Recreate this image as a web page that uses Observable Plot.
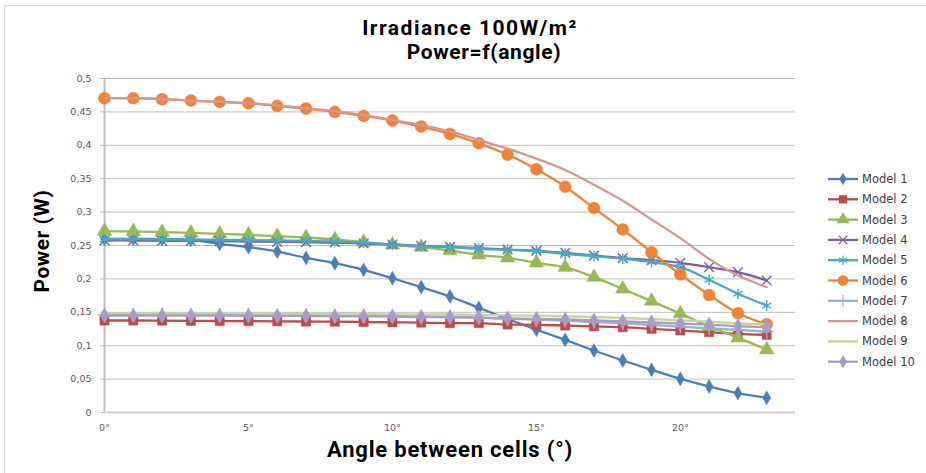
<!DOCTYPE html>
<html>
<head>
<meta charset="utf-8">
<script src="https://cdn.jsdelivr.net/npm/d3@7"></script>
<script src="https://cdn.jsdelivr.net/npm/@observablehq/plot@0.6"></script>
<style>
  html, body { margin: 0; padding: 0; background: #fff; }
  #wrap { position: relative; width: 926px; height: 473px; overflow: hidden; background: #fff; }
  #frame { position: absolute; left: 4px; top: 5px; width: 940px; height: 480px; border-left: 1px solid #d9d9d9; border-top: 1px solid #d9d9d9; }
  .ttl { position: absolute; font-family: Roboto, "Liberation Sans", sans-serif; font-weight: bold; color: #000; white-space: nowrap; transform: translate(-50%, -50%); line-height: 1; }
  #ytitle { position: absolute; font-family: Roboto, "Liberation Sans", sans-serif; font-weight: bold; font-size: 21px; letter-spacing: 0.5px; white-space: nowrap; left: 42px; top: 241px; line-height: 1; transform: translate(-50%, -50%) rotate(-90deg); }
  #chart { position: absolute; left: 0; top: 0; }
  #legend { position: absolute; left: 0; top: 0; }
</style>
</head>
<body>
<div id="wrap">
  <div id="frame"></div>
  <div id="chart"></div>
  <div id="legend"></div>
  <div class="ttl" style="left:470px; top:28px; font-size:21px; letter-spacing:1.5px;">Irradiance 100W/m²</div>
  <div class="ttl" style="left:484px; top:52px; font-size:21px; letter-spacing:0.6px;">Power=f(angle)</div>
  <div class="ttl" style="left:450px; top:450px; font-size:22px; letter-spacing:0.8px;">Angle between cells (°)</div>
  <div id="ytitle">Power (W)</div>
</div>
<script>
const angles = [0,1,2,3,4,5,6,7,8,9,10,11,12,13,14,15,16,17,18,19,20,21,22,23];
const xTicks = [0,5,10,15,20];
const yTicks = [0,0.05,0.1,0.15,0.2,0.25,0.3,0.35,0.4,0.45,0.5];

const model1 = [0.260,0.260,0.2595,0.2585,0.2525,0.2475,0.241,0.2315,0.2235,0.2136,0.201,0.1876,0.1737,0.1567,0.140,0.124,0.1088,0.0928,0.0778,0.0639,0.0504,0.039,0.029,0.022];
const model2 = [0.1377,0.1377,0.1375,0.1372,0.137,0.1368,0.1365,0.1362,0.136,0.1355,0.135,0.1345,0.1337,0.1337,0.1317,0.1313,0.1302,0.129,0.1277,0.1253,0.1228,0.1202,0.1178,0.1163];
const model3 = [0.2715,0.271,0.270,0.269,0.2675,0.266,0.264,0.262,0.259,0.255,0.251,0.2475,0.2425,0.236,0.2315,0.224,0.2175,0.2026,0.185,0.1667,0.148,0.129,0.112,0.094];
const model4 = [0.2575,0.2575,0.257,0.257,0.2565,0.256,0.2555,0.255,0.2545,0.253,0.2515,0.2495,0.248,0.246,0.244,0.242,0.239,0.235,0.231,0.228,0.224,0.2175,0.21,0.1976];
const model5 = [0.2595,0.2595,0.259,0.259,0.2585,0.258,0.2575,0.257,0.256,0.254,0.2515,0.249,0.2475,0.245,0.2435,0.2415,0.2375,0.234,0.230,0.225,0.2175,0.1987,0.1777,0.160];
const model6 = [0.4705,0.4705,0.469,0.467,0.465,0.463,0.459,0.455,0.450,0.444,0.437,0.428,0.417,0.403,0.386,0.364,0.338,0.306,0.274,0.240,0.2066,0.176,0.1486,0.132];
const model7 = [0.1465,0.1465,0.1465,0.146,0.146,0.146,0.1455,0.1455,0.145,0.145,0.1445,0.144,0.143,0.142,0.1405,0.139,0.1375,0.1355,0.1335,0.131,0.1285,0.126,0.1235,0.121];
const model8 = [0.4705,0.4705,0.469,0.467,0.465,0.463,0.4595,0.4555,0.451,0.445,0.438,0.43,0.4207,0.408,0.395,0.380,0.363,0.341,0.317,0.289,0.261,0.230,0.205,0.1876];
const model9 = [0.1487,0.1487,0.1487,0.1485,0.1485,0.1485,0.148,0.148,0.148,0.1475,0.147,0.147,0.1467,0.146,0.1455,0.145,0.144,0.143,0.1415,0.14,0.138,0.136,0.1335,0.1317];
const model10 = [0.1452,0.1452,0.145,0.145,0.145,0.1448,0.1445,0.1445,0.144,0.144,0.1435,0.143,0.1427,0.142,0.1407,0.14,0.1392,0.1377,0.1362,0.1347,0.1332,0.1317,0.1292,0.1277];

const seriesNames = ["Model 1","Model 2","Model 3","Model 4","Model 5","Model 6","Model 7","Model 8","Model 9","Model 10"];
const seriesValues = [model1,model2,model3,model4,model5,model6,model7,model8,model9,model10];
const seriesColors = ["#4a7ebb","#be4b48","#98b954","#7d60a0","#46aac5","#ec8538","#95b3d7","#d99694","#c3d69b","#a99bc9"];
const seriesSymbols = ["diamond","square","triangle","times","asterisk","circle","plus",null,null,"diamond"];
const seriesR = [4.2,5.2,5.4,4.5,5,6,4.5,0,0,4.6];

const series = seriesNames.map((name, k) => ({
  name, color: seriesColors[k], symbol: seriesSymbols[k], r: seriesR[k],
  data: angles.map((a, i) => ({angle: a, power: seriesValues[k][i]}))
}));

const strokeSym = new Set(["times","asterisk","plus"]);

const marks = [
  Plot.ruleY(yTicks.filter(d => d > 0), {stroke: "#bfbfbf", strokeWidth: 1}),
  Plot.axisY(yTicks, {tickSize: 4, tickPadding: 9, stroke: "#bfbfbf", fill: "#595959", fontSize: 9.5,
    tickFormat: d => String(d).replace(".", ","), label: null, fontFamily: "DejaVu Sans"}),
  Plot.axisX(xTicks, {tickSize: 0, tickPadding: 12, fill: "#595959", fontSize: 9.5,
    tickFormat: d => d + "°", label: null, fontFamily: "DejaVu Sans"}),
  Plot.ruleX([0], {stroke: "#bfbfbf", strokeWidth: 2}),
  Plot.ruleY([0], {stroke: "#d9d9d9", strokeWidth: 2.5})
];

for (const s of series) {
  marks.push(Plot.line(s.data, {x: "angle", y: "power", stroke: s.color, strokeWidth: 2.3, curve: "catmull-rom"}));
  if (s.symbol) {
    if (strokeSym.has(s.symbol)) {
      marks.push(Plot.dot(s.data, {x: "angle", y: "power", symbol: () => s.symbol, r: s.r, stroke: s.color, strokeWidth: 1.4, fill: "none"}));
    } else {
      marks.push(Plot.dot(s.data, {x: "angle", y: "power", symbol: () => s.symbol, r: s.r, fill: s.color, stroke: s.color, strokeWidth: 0.5}));
    }
  }
}

const chart = Plot.plot({
  width: 926, height: 473,
  marginLeft: 104, marginRight: 131, marginTop: 78, marginBottom: 61,
  style: {background: "transparent", overflow: "visible"},
  x: {domain: [0, 24], axis: null},
  y: {domain: [0, 0.5], axis: null},
  symbol: {type: "identity"},
  marks
});
document.getElementById("chart").appendChild(chart);

// legend
const lg = d3.select("#legend").append("svg").attr("width", 926).attr("height", 473);
const lgTop = 179, lgStep = 20.3;
series.forEach((s, k) => {
  const y = lgTop + k * lgStep;
  const g = lg.append("g");
  g.append("line").attr("x1", 828).attr("x2", 858).attr("y1", y).attr("y2", y)
    .attr("stroke", s.color).attr("stroke-width", 2.3);
  if (s.symbol) {
    const symMap = {diamond: d3.symbolDiamond, square: d3.symbolSquare, triangle: d3.symbolTriangle,
      times: d3.symbolTimes, asterisk: d3.symbolAsterisk, circle: d3.symbolCircle, plus: d3.symbolPlus};
    const size = Math.PI * s.r * s.r * 0.8;
    const p = g.append("path").attr("d", d3.symbol(symMap[s.symbol], size)()).attr("transform", `translate(843,${y})`);
    if (strokeSym.has(s.symbol)) p.attr("fill", "none").attr("stroke", s.color).attr("stroke-width", 1.2);
    else p.attr("fill", s.color);
  }
  g.append("text").attr("x", 862).attr("y", y).attr("dy", "0.35em")
    .attr("font-family", "DejaVu Sans").attr("font-size", 11.5).attr("fill", "#404040").text(s.name);
});
</script>
</body>
</html>
